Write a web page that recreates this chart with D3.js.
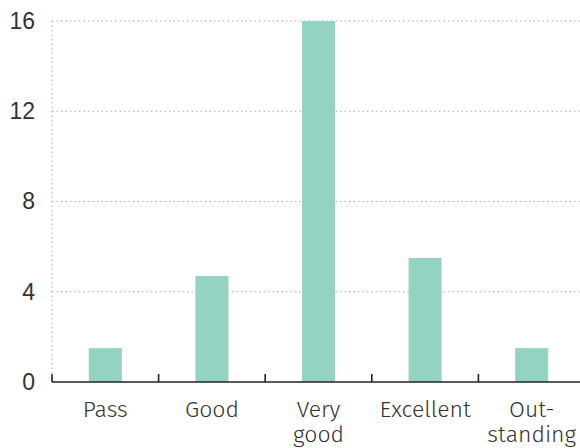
<!DOCTYPE html>
<html>
<head>
<meta charset="utf-8">
<script src="https://cdn.jsdelivr.net/npm/d3@7"></script>
<style>
  body { margin: 0; background: #fff; }
  svg { display: block; font-family: "Fira Sans", "Open Sans", sans-serif; }
  .eje text { font-size: 23px; fill: #333; font-weight: 300; }
</style>
</head>
<body>
<div id="graf"></div>
<script>
// datos
categorias = ['Pass', 'Good', 'Very good', 'Excellent', 'Out- standing']
valores = [1.5, 4.7, 16, 5.5, 1.5]
ticksY = [0, 4, 8, 12, 16]

ancho_total = 580
alto_total = 448
margins = { top: 21, left: 52, right: -5, bottom: 66 }
ancho = ancho_total - margins.left - margins.right
alto = alto_total - margins.top - margins.bottom

svg = d3.select('#graf').append('svg')
        .attr('width', ancho_total)
        .attr('height', alto_total)

g = svg.append('g')
       .attr('transform', `translate(${margins.left}, ${margins.top})`)

y = d3.scaleLinear().domain([0, 16]).range([alto, 0])
x = d3.scaleBand().domain(categorias).range([0, ancho])

// rejilla
g.selectAll('.grid-h')
  .data(ticksY.filter(d => d > 0))
  .enter().append('line')
    .attr('x1', 0).attr('x2', ancho_total - margins.left)
    .attr('y1', d => y(d)).attr('y2', d => y(d))
    .attr('stroke', '#aaa')
    .attr('stroke-width', 1)
    .attr('stroke-dasharray', '1.5,3')

g.append('line')
  .attr('x1', 0).attr('x2', 0)
  .attr('y1', y(16)).attr('y2', y(0))
  .attr('stroke', '#aaa')
  .attr('stroke-dasharray', '1.5,3')

// barras
bw = x.bandwidth() * 0.31
g.selectAll('rect')
  .data(valores)
  .enter().append('rect')
    .attr('x', (d, i) => x(categorias[i]) + x.bandwidth() / 2 - bw / 2)
    .attr('y', d => y(d))
    .attr('width', bw)
    .attr('height', d => alto - y(d))
    .attr('fill', '#93d3c1')

// eje y
yAxis = g.append('g').attr('class', 'eje')
  .call(d3.axisLeft(y).tickValues(ticksY).tickSize(0).tickPadding(17))
yAxis.select('.domain').remove()

// eje x
g.append('line')
  .attr('x1', 0).attr('x2', ancho_total - margins.left)
  .attr('y1', alto).attr('y2', alto)
  .attr('stroke', '#222').attr('stroke-width', 1.6)

g.selectAll('.tic')
  .data(categorias)
  .enter().append('line')
    .attr('x1', d => x(d)).attr('x2', d => x(d))
    .attr('y1', alto).attr('y2', alto - 8)
    .attr('stroke', '#222').attr('stroke-width', 1.6)

etiquetas = g.selectAll('.etq')
  .data(categorias)
  .enter().append('text')
    .attr('class', 'etq')
    .attr('text-anchor', 'middle')
    .attr('font-size', '23px')
    .attr('font-weight', 300)
    .attr('fill', '#333')
    .attr('transform', d => `translate(${x(d) + x.bandwidth() / 2}, ${alto + 35})`)

etiquetas.selectAll('tspan')
  .data(d => d.split(' '))
  .enter().append('tspan')
    .attr('x', 0)
    .attr('dy', (d, i) => i === 0 ? 0 : 25)
    .text(d => d)
</script>
</body>
</html>
